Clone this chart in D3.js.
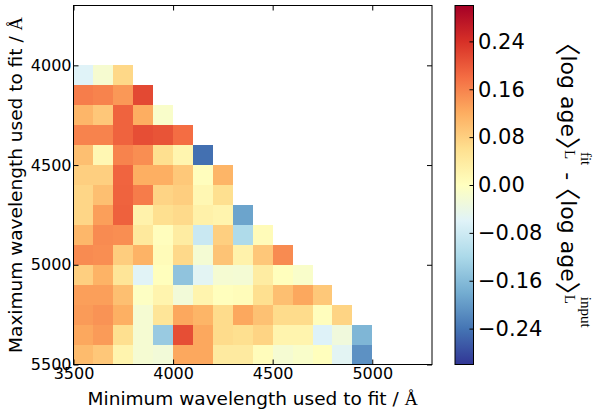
<!DOCTYPE html>
<html>
<head>
<meta charset="utf-8">
<script src="https://cdn.jsdelivr.net/npm/d3@7"></script>
<style>
  html, body { margin: 0; padding: 0; background: #fff; }
  svg { display: block; }
</style>
</head>
<body>
<svg id="chart" width="598" height="417"></svg>
<script>
// Lower edge of each fitted wavelength window (one column per value), Å
const minWavelengths = [3500, 3600, 3700, 3800, 3900, 4000, 4100, 4200, 4300, 4400, 4500, 4600, 4700, 4800, 4900];
// Upper edge of each fitted wavelength window (one row per value), Å
const maxWavelengths = [4000, 4100, 4200, 4300, 4400, 4500, 4600, 4700, 4800, 4900, 5000, 5100, 5200, 5300, 5400];
// <log age>_L(fit) - <log age>_L(input); row k follows maxWavelengths[k],
// entries run along minWavelengths from 3500 Å
const ageOffsetRows = [
  [-0.060, -0.018, 0.070],
  [0.165, 0.160, 0.140, 0.215],
  [0.110, 0.090, 0.190, 0.120, -0.012],
  [0.160, 0.160, 0.190, 0.210, 0.205, 0.180],
  [0.100, 0.015, 0.160, 0.150, 0.060, 0.020, -0.245],
  [0.080, 0.080, 0.189, 0.119, 0.119, 0.089, 0.003, 0.112],
  [0.072, 0.100, 0.190, 0.166, 0.074, 0.082, 0.015, 0.060],
  [0.072, 0.134, 0.192, 0.026, 0.060, 0.067, 0.028, 0.022, -0.190],
  [0.109, 0.152, 0.150, 0.043, 0.003, 0.037, -0.086, 0.080, -0.115, 0.008],
  [0.152, 0.150, 0.083, 0.114, 0.008, 0.068, -0.021, 0.095, 0.025, 0.090, 0.152],
  [0.080, 0.114, 0.050, -0.058, 0.002, -0.150, -0.055, -0.020, -0.022, 0.037, 0.002, -0.012],
  [0.134, 0.134, 0.100, -0.004, 0.022, -0.026, 0.022, 0.002, 0.006, 0.060, 0.100, 0.126, 0.089],
  [0.138, 0.145, 0.118, -0.020, 0.050, 0.126, 0.112, 0.065, 0.126, 0.097, 0.065, 0.065, 0.003, 0.075],
  [0.126, 0.138, 0.060, -0.020, -0.140, 0.210, 0.126, 0.065, 0.060, 0.075, 0.022, 0.022, -0.062, -0.030, -0.168],
  [0.105, 0.090, 0.022, -0.020, -0.026, 0.126, 0.126, 0.040, 0.040, 0.005, -0.020, -0.012, 0.002, -0.055, -0.210]
];
const binWidth = 100;
const xTicks = [3500, 4000, 4500, 5000];
const yTicks = [4000, 4500, 5000, 5500];
const colourTicks = [-0.24, -0.16, -0.08, 0.00, 0.08, 0.16, 0.24];
const xDomain = [3500, 5300];
const yDomain = [3700, 5500];
const colourDomain = [-0.3, 0.3];

const sans = "'DejaVu Sans', sans-serif";
const serif = "'Liberation Serif', 'DejaVu Serif', serif";
const bracketFont = "'Noto Sans CJK JP', 'Noto Sans CJK SC', sans-serif";
const ink = "#000";

const svg = d3.select("#chart");

const plot = { left: 73.5, right: 432, top: 5.5, bottom: 364.5 };
const bar = { left: 455, right: 473.5, top: 5.5, bottom: 364.5 };

const x = d3.scaleLinear().domain(xDomain).range([plot.left, plot.right]);
const y = d3.scaleLinear().domain(yDomain).range([plot.top, plot.bottom]);

// Reversed red-yellow-blue diverging scheme, linear between the 11 anchor colours
const scheme = d3.schemeRdYlBu[11].slice().reverse();
const colour = d3.scaleLinear()
  .domain(d3.range(scheme.length).map(i => colourDomain[0] + i * (colourDomain[1] - colourDomain[0]) / (scheme.length - 1)))
  .range(scheme)
  .interpolate(d3.interpolateRgb)
  .clamp(true);

// Flatten the triangular grid into cells
const cells = [];
ageOffsetRows.forEach((row, r) => {
  row.forEach((v, c) => {
    cells.push({ lo: minWavelengths[c], hi: maxWavelengths[r], value: v });
  });
});

svg.append("g")
  .selectAll("rect")
  .data(cells)
  .join("rect")
  .attr("x", d => x(d.lo))
  .attr("y", d => y(d.hi))
  .attr("width", d => x(d.lo + binWidth) - x(d.lo))
  .attr("height", d => y(d.hi + binWidth) - y(d.hi))
  .attr("fill", d => colour(d.value))
  .attr("shape-rendering", "crispEdges");

// Axes with inward ticks on all four sides
const tickLen = 5;
function styleAxis(g) {
  g.select(".domain").remove();
  g.selectAll(".tick line").attr("stroke", ink).attr("stroke-width", 1);
  g.selectAll(".tick text").attr("fill", ink).attr("font-family", sans).attr("font-size", 16);
}

svg.append("g")
  .attr("transform", `translate(0,${plot.bottom})`)
  .call(d3.axisBottom(x).tickValues(xTicks).tickFormat(d3.format("d"))
    .tickSizeInner(-tickLen).tickSizeOuter(0).tickPadding(3))
  .call(styleAxis);

svg.append("g")
  .attr("transform", `translate(0,${plot.top})`)
  .call(d3.axisTop(x).tickValues(xTicks).tickFormat("")
    .tickSizeInner(-tickLen).tickSizeOuter(0))
  .call(styleAxis);

svg.append("g")
  .attr("transform", `translate(${plot.left},0)`)
  .call(d3.axisLeft(y).tickValues(yTicks).tickFormat(d3.format("d"))
    .tickSizeInner(-tickLen).tickSizeOuter(0).tickPadding(2))
  .call(styleAxis);

svg.append("g")
  .attr("transform", `translate(${plot.right},0)`)
  .call(d3.axisRight(y).tickValues(yTicks).tickFormat("")
    .tickSizeInner(-tickLen).tickSizeOuter(0))
  .call(styleAxis);

svg.append("rect")
  .attr("x", plot.left).attr("y", plot.top)
  .attr("width", plot.right - plot.left).attr("height", plot.bottom - plot.top)
  .attr("fill", "none").attr("stroke", ink).attr("stroke-width", 1);

// Axis titles
const xTitle = svg.append("text")
  .attr("x", (plot.left + plot.right) / 2).attr("y", 404.5)
  .attr("text-anchor", "middle")
  .attr("font-family", sans).attr("font-size", 18.5).attr("fill", ink);
xTitle.append("tspan").text("Minimum wavelength used to fit / ");
xTitle.append("tspan").attr("font-family", serif).text("Å");

const yTitle = svg.append("text")
  .attr("transform", `translate(21.5,${(plot.top + plot.bottom) / 2}) rotate(-90)`)
  .attr("text-anchor", "middle")
  .attr("font-family", sans).attr("font-size", 18.5).attr("fill", ink);
yTitle.append("tspan").text("Maximum wavelength used to fit / ");
yTitle.append("tspan").attr("font-family", serif).text("Å");

// Colour bar
const defs = svg.append("defs");
const grad = defs.append("linearGradient")
  .attr("id", "bar-gradient")
  .attr("x1", 0).attr("y1", 1).attr("x2", 0).attr("y2", 0);
grad.selectAll("stop")
  .data(colour.domain())
  .join("stop")
  .attr("offset", d => (d - colourDomain[0]) / (colourDomain[1] - colourDomain[0]))
  .attr("stop-color", d => colour(d));

svg.append("rect")
  .attr("x", bar.left).attr("y", bar.top)
  .attr("width", bar.right - bar.left).attr("height", bar.bottom - bar.top)
  .attr("fill", "url(#bar-gradient)")
  .attr("stroke", ink).attr("stroke-width", 1);

const cScale = d3.scaleLinear().domain(colourDomain).range([bar.bottom, bar.top]);
svg.append("g")
  .attr("transform", `translate(${bar.right},0)`)
  .call(d3.axisRight(cScale).tickValues(colourTicks).tickFormat(d3.format(".2f"))
    .tickSizeInner(-4).tickSizeOuter(0).tickPadding(4.5))
  .call(g => {
    g.select(".domain").remove();
    g.selectAll(".tick line").attr("stroke", ink);
    g.selectAll(".tick text").attr("fill", ink).attr("font-family", sans).attr("font-size", 21);
  });

// Colour bar title: <log age>_L^fit - <log age>_L^input, read top to bottom
const mainSize = 22, bracketSize = 26, scriptSize = 15;
const titleBase = 561;
const titleGroup = svg.append("g")
  .attr("transform", `translate(${titleBase},${(bar.top + bar.bottom) / 2}) rotate(90)`);
const inner = titleGroup.append("g");

// Full-width angle brackets: ink sits in one half of the em box,
// so "shift" pulls the glyph back and "advance" is the width kept.
const pieces = [
  { text: "\u3008", font: bracketFont, size: bracketSize, y: 3, shift: -0.5, advance: 0.5 },
  { text: "log age", font: sans, size: mainSize, y: 0 },
  { text: "\u3009", font: bracketFont, size: bracketSize, y: 3, shift: 0, advance: 0.5 },
  { sub: "L", sup: "fit" },
  { text: "\u00A0-\u00A0", font: sans, size: mainSize, y: 0 },
  { text: "\u3008", font: bracketFont, size: bracketSize, y: 3, shift: -0.5, advance: 0.5 },
  { text: "log age", font: sans, size: mainSize, y: 0 },
  { text: "\u3009", font: bracketFont, size: bracketSize, y: 3, shift: 0, advance: 0.5 },
  { sub: "L", sup: "input" }
];

let cursor = 0;
pieces.forEach(p => {
  if (p.text !== undefined) {
    const t = inner.append("text")
      .attr("x", cursor + (p.shift || 0) * p.size).attr("y", p.y)
      .attr("font-family", p.font).attr("font-size", p.size).attr("fill", ink)
      .text(p.text);
    cursor += p.advance !== undefined ? p.advance * p.size : t.node().getComputedTextLength();
  } else {
    const s = inner.append("text")
      .attr("x", cursor).attr("y", -4)
      .attr("font-family", serif).attr("font-size", scriptSize).attr("fill", ink)
      .text(p.sub);
    const u = inner.append("text")
      .attr("x", cursor + 2).attr("y", -20)
      .attr("font-family", serif).attr("font-size", scriptSize).attr("fill", ink)
      .text(p.sup);
    cursor += 2 + Math.max(s.node().getComputedTextLength(), u.node().getComputedTextLength());
  }
});
inner.attr("transform", `translate(${-cursor / 2},0)`);
</script>
</body>
</html>
